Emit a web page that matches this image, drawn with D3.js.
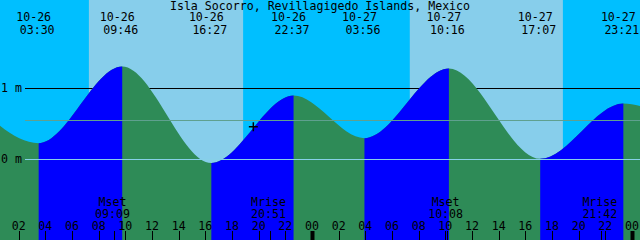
<!DOCTYPE html>
<html>
<head>
<meta charset="utf-8">
<script src="https://cdn.jsdelivr.net/npm/d3@7"></script>
<style>
body { margin: 0; background: #fff; overflow: hidden; }
svg { display: block; }
text { font-family: 'DejaVu Sans Mono', monospace; font-size: 11.6px; fill: #000; }
</style>
</head>
<body>
<div class="tide-container"></div>
<script>
// Data
const title = 'Isla Socorro, Revillagigedo Islands, Mexico';
// 潮汐高低點 (第一筆與最後一筆在圖外, 估計值)
const tideTimes = ['10-25 22:00', '10-26 03:30', '10-26 09:46', '10-26 16:27', '10-26 22:37',
                   '10-27 03:56', '10-27 10:16', '10-27 17:07', '10-27 23:21', '10-28 04:40'];
const tideHeights = [0.94, 0.23, 1.31, -0.05, 0.90, 0.30, 1.28, 0.01, 0.79, 0.33];
const sunriseTimes = ['10-26 07:16', '10-27 07:20'];
const sunsetTimes = ['10-26 18:50', '10-27 18:49'];
const moonNames = ['Mset', 'Mrise', 'Mset', 'Mrise'];
const moonTimes = ['10-26 09:09', '10-26 20:51', '10-27 10:08', '10-27 21:42'];
const depthLines = [1, 0];
const meanLevel = 0.55;
const nowTime = '10-26 19:36';
const nowLevel = 0.46;
const chartStart = '10-26 00:00';
const chartEnd = '10-28 00:00';

const parseTime = d3.utcParse('%m-%d %H:%M');

function setupCanvas() {
    const svg_width = 640;
    const svg_height = 240;
    const svg = d3.select('.tide-container').append('svg')
        .attr('width', svg_width).attr('height', svg_height);

    const xScale = d3.scaleUtc()
        .domain([parseTime(chartStart), parseTime(chartEnd)])
        .range([-8, 632]);
    const yScale = d3.scaleLinear().domain([0, 1]).range([159.5, 88.5]);

    const tides = tideTimes.map((t, i) => ({ t: parseTime(t), h: tideHeights[i], label: t }));

    // 背景: 夜晚 / 白天
    svg.append('rect').attr('width', svg_width).attr('height', svg_height).style('fill', '#00bfff');
    svg.selectAll('.day').data(sunriseTimes).enter()
        .append('rect').attr('class', 'day')
        .attr('x', d => xScale(parseTime(d)))
        .attr('width', (d, i) => xScale(parseTime(sunsetTimes[i])) - xScale(parseTime(d)))
        .attr('y', 0).attr('height', svg_height)
        .style('fill', '#87ceeb');

    // 1 m 線在潮汐下面
    svg.selectAll('.depth').data(depthLines.filter(d => d !== 0)).enter()
        .append('line').attr('class', 'depth')
        .attr('x1', 25).attr('x2', svg_width)
        .attr('y1', d => yScale(d)).attr('y2', d => yScale(d))
        .style('stroke', '#000').style('shape-rendering', 'crispEdges');

    // 潮汐面積
    const area = d3.area()
        .x(d => xScale(d.t))
        .y0(svg_height)
        .y1(d => yScale(d.h))
        .curve(d3.curveMonotoneX);

    const rising = d3.pairs(tides).filter(([a, b]) => b.h > a.h);
    svg.append('clipPath').attr('id', 'rise-clip')
        .selectAll('rect').data(rising).enter()
        .append('rect')
        .attr('x', d => xScale(d[0].t))
        .attr('width', d => xScale(d[1].t) - xScale(d[0].t))
        .attr('y', 0).attr('height', svg_height);

    svg.append('path').datum(tides).attr('d', area).style('fill', '#2e8b57');
    svg.append('path').datum(tides).attr('d', area).style('fill', '#0000ff')
        .attr('clip-path', 'url(#rise-clip)');

    // 0 m 與平均潮位線
    svg.append('line')
        .attr('x1', 25).attr('x2', svg_width)
        .attr('y1', yScale(0)).attr('y2', yScale(0))
        .style('stroke', '#87d0e8').style('shape-rendering', 'crispEdges');
    svg.append('line')
        .attr('x1', 25).attr('x2', svg_width)
        .attr('y1', yScale(meanLevel)).attr('y2', yScale(meanLevel))
        .style('stroke', '#5fa08f').style('shape-rendering', 'crispEdges');

    svg.selectAll('.depth-label').data(depthLines).enter()
        .append('text').attr('class', 'depth-label')
        .attr('x', 1).attr('y', d => yScale(d) + 3.5)
        .text(d => `${d} m`);

    // 標題
    svg.append('text').attr('x', 320).attr('y', 9.5)
        .style('text-anchor', 'middle').text(title);

    // 高低潮時間
    const labeled = tides.filter(d => xScale(d.t) > 0 && xScale(d.t) < svg_width);
    svg.selectAll('.tide-date').data(labeled).enter()
        .append('text').attr('class', 'tide-date')
        .attr('x', d => xScale(d.t) - 5).attr('y', 21.2)
        .style('text-anchor', 'middle')
        .text(d => d.label.slice(0, 5));
    svg.selectAll('.tide-time').data(labeled).enter()
        .append('text').attr('class', 'tide-time')
        .attr('x', d => xScale(d.t) - 1.5).attr('y', 34)
        .style('text-anchor', 'middle')
        .text(d => d.label.slice(6));

    // 月出月落
    const moon = moonTimes.map((t, i) => ({ t: parseTime(t), name: moonNames[i], label: t }));
    svg.selectAll('.moon-name').data(moon).enter()
        .append('text').attr('class', 'moon-name')
        .attr('x', d => xScale(d.t) - 1.5).attr('y', 206)
        .style('text-anchor', 'middle').text(d => d.name);
    svg.selectAll('.moon-time').data(moon).enter()
        .append('text').attr('class', 'moon-time')
        .attr('x', d => xScale(d.t) - 1.5).attr('y', 218)
        .style('text-anchor', 'middle').text(d => d.label.slice(6));
    svg.selectAll('.moon-tick').data(moon).enter()
        .append('line').attr('class', 'moon-tick')
        .attr('x1', d => Math.round(xScale(d.t)) + 0.5).attr('x2', d => Math.round(xScale(d.t)) + 0.5)
        .attr('y1', 231).attr('y2', svg_height)
        .style('stroke', '#000');

    // 時間刻度
    const hours = d3.utcHour.every(2).range(
        d3.utcHour.offset(parseTime(chartStart), 2),
        d3.utcMinute.offset(parseTime(chartEnd), 1));
    svg.selectAll('.hour-tick').data(hours).enter()
        .append('line').attr('class', 'hour-tick')
        .attr('x1', d => Math.round(xScale(d)) + 0.5).attr('x2', d => Math.round(xScale(d)) + 0.5)
        .attr('y1', 231).attr('y2', svg_height)
        .style('stroke', '#000')
        .style('stroke-width', d => d.getUTCHours() === 0 ? 4 : 1);
    svg.selectAll('.hour-label').data(hours).enter()
        .append('text').attr('class', 'hour-label')
        .attr('x', d => xScale(d)).attr('y', 229.5)
        .style('text-anchor', 'middle')
        .text(d3.utcFormat('%H'));

    // 目前時間標記
    const nx = xScale(parseTime(nowTime));
    const ny = yScale(nowLevel);
    svg.append('path')
        .attr('d', `M${nx - 4.5},${ny}H${nx + 4.5}M${nx},${ny - 4.5}V${ny + 4.5}`)
        .style('stroke', '#000').style('stroke-width', 1.5);
}

setupCanvas();
</script>
</body>
</html>
